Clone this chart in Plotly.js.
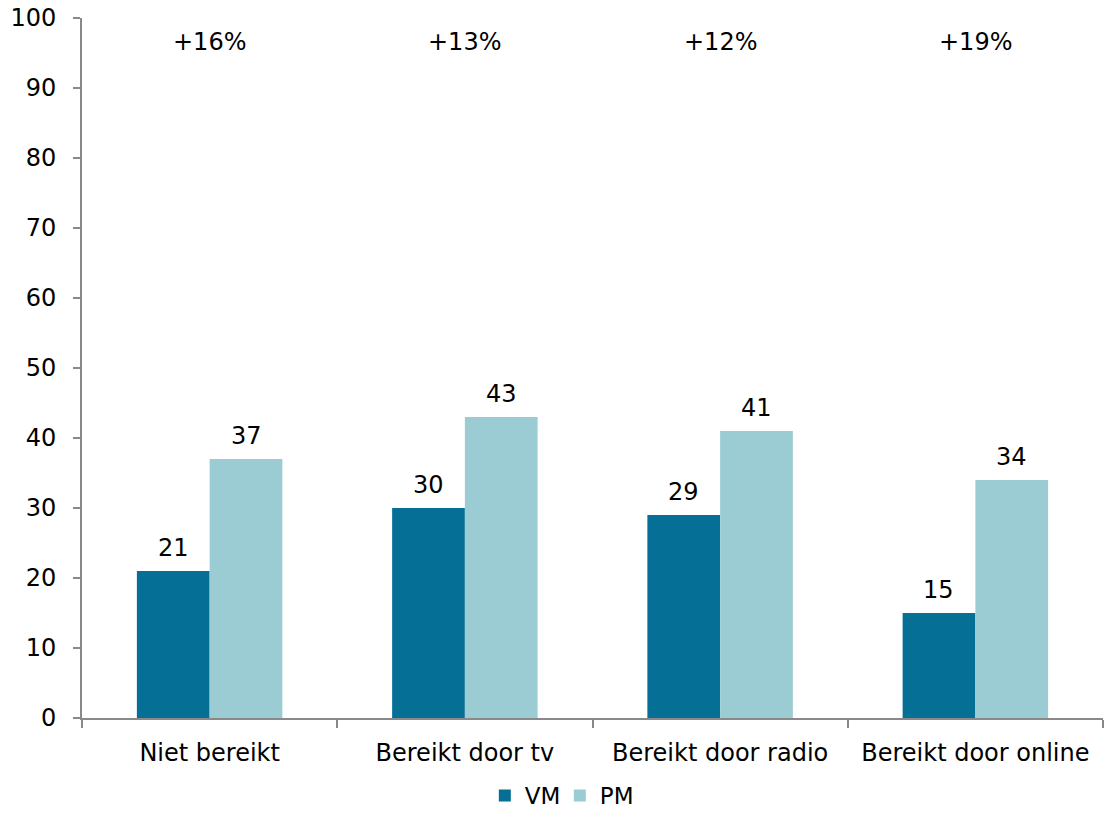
<!DOCTYPE html>
<html>
<head>
<meta charset="utf-8">
<script src="https://cdn.plot.ly/plotly-3.0.1.min.js"></script>
<style>html,body{margin:0;padding:0;background:#fff;}#chart{width:1107px;height:817px;}</style>
</head>
<body>
<div id="chart"></div>
<script>
var categories = ["Niet bereikt", "Bereikt door tv", "Bereikt door radio", "Bereikt door online"];
var vmValues = [21, 30, 29, 15];
var pmValues = [37, 43, 41, 34];
var diffLabels = ["+16%", "+13%", "+12%", "+19%"];
var seriesNames = ["VM", "PM"];
var yTicks = [0, 10, 20, 30, 40, 50, 60, 70, 80, 90, 100];

var FONT = "DejaVu Sans, Verdana, sans-serif";
var textFont = {family: FONT, size: 24, color: "#000"};

var traces = [
  {type: "bar", name: seriesNames[0], x: categories, y: vmValues, offsetgroup: "a",
   marker: {color: "#056F96"}},
  {type: "bar", name: seriesNames[1], x: categories, y: pmValues, offsetgroup: "b",
   marker: {color: "#9BCCD3"}}
];

var annotations = categories.map(function (c, i) {
  return {x: c, y: 100, xref: "x", yref: "y", yshift: -24, text: diffLabels[i],
    showarrow: false, font: textFont, xanchor: "center", yanchor: "middle"};
});
// value labels above bars, shifted half a bar to the left/right of the category centre
var BAR_SHIFT = 36.5;
categories.forEach(function (c, i) {
  annotations.push({x: c, y: vmValues[i], xref: "x", yref: "y", xshift: -BAR_SHIFT, yshift: 23,
    text: String(vmValues[i]), showarrow: false, font: textFont, xanchor: "center", yanchor: "middle"});
  annotations.push({x: c, y: pmValues[i], xref: "x", yref: "y", xshift: BAR_SHIFT, yshift: 23,
    text: String(pmValues[i]), showarrow: false, font: textFont, xanchor: "center", yanchor: "middle"});
});

var layout = {
  width: 1107, height: 817,
  margin: {l: 82, r: 4, t: 18, b: 99, autoexpand: false},
  paper_bgcolor: "#fff", plot_bgcolor: "#fff",
  barmode: "group", bargap: 0.43, bargroupgap: 0,
  font: textFont,
  showlegend: true,
  legend: {orientation: "h", x: 0.468, xanchor: "center", yref: "container", y: -0.009, yanchor: "bottom",
    font: {family: FONT, size: 23, color: "#000"}, itemwidth: 30, entrywidth: 30, tracegroupgap: 0},
  xaxis: {type: "category", showline: true, linecolor: "#898989", linewidth: 2,
    ticks: "outside", tickson: "boundaries", ticklen: 8, tickcolor: "#898989", tickwidth: 2,
    showgrid: false, tickfont: textFont, ticklabelstandoff: 12},
  yaxis: {range: [0, 100], tickvals: yTicks, showline: true, linecolor: "#898989", linewidth: 2,
    ticks: "outside", ticklen: 7, tickcolor: "#898989", tickwidth: 2,
    showgrid: false, zeroline: false, tickfont: textFont, ticklabelstandoff: 12},
  annotations: annotations
};

Plotly.newPlot("chart", traces, layout, {displayModeBar: false});
</script>
</body>
</html>
